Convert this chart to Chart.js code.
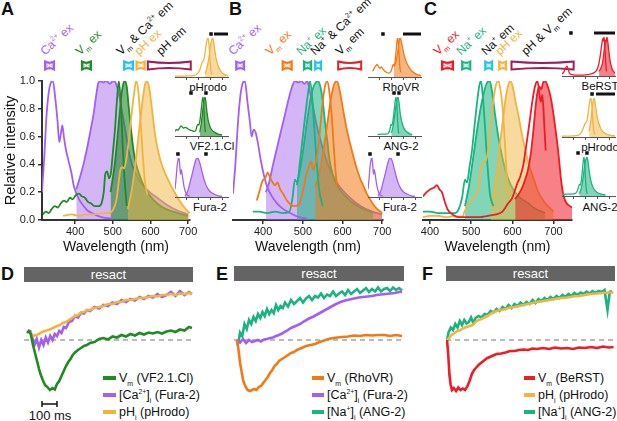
<!DOCTYPE html>
<html lang="en">
<head>
<meta charset="UTF-8">
<title>Spectra and resact responses</title>
<script src="https://cdn.jsdelivr.net/npm/chart.js"></script>
<style>
  body { margin: 0; background: #fff; }
  #fig { position: relative; width: 617px; height: 421px; overflow: hidden; background: #fff;
         font-family: "Liberation Sans", Arial, sans-serif; color: #111; }
  #fig canvas, #fig .t { position: absolute; }
  .t { white-space: nowrap; }
  .panel { font-weight: bold; font-size: 18px; line-height: 18px; }
  .flt { font-size: 12px; line-height: 14px; height: 14px; transform-origin: 0 100%; transform: rotate(-43deg); }
  .ins { font-size: 11.5px; line-height: 14px; transform: translateX(-50%); }
  sub, sup { font-size: 60%; line-height: 0; }
  .bar { background: #646464; color: #fff; font-size: 13px; line-height: 15px; height: 15px; text-align: center; }
  .leg { font-size: 12.5px; line-height: 16px; }
  .leg sub, .leg sup { font-size: 55%; }
  .leg i { display: inline-block; width: 13px; height: 4px; vertical-align: middle; margin-right: 3px; position: relative; top: -1px; }
</style>
</head>
<body>
<div id="fig">
  <!-- panel letters -->
  <div class="t panel" style="left:1px;top:0px">A</div>
  <div class="t panel" style="left:229px;top:0px">B</div>
  <div class="t panel" style="left:424px;top:0px">C</div>
  <div class="t panel" style="left:1px;top:265px">D</div>
  <div class="t panel" style="left:216px;top:265px">E</div>
  <div class="t panel" style="left:422px;top:265px">F</div>

  <!-- filter labels A -->
  <div class="t flt" style="left:47px;top:44px;color:#a35ff2">Ca<sup>2+</sup> ex</div>
  <div class="t flt" style="left:82px;top:44px;color:#1f8b25">V<sub>m</sub> ex</div>
  <div class="t flt" style="left:123px;top:44px">V<sub>m</sub> &amp; Ca<sup>2+</sup> em</div>
  <div class="t flt" style="left:141px;top:44px;color:#f1b43f">pH ex</div>
  <div class="t flt" style="left:163px;top:44px">pH em</div>
  <!-- filter labels B -->
  <div class="t flt" style="left:235px;top:44px;color:#a35ff2">Ca<sup>2+</sup> ex</div>
  <div class="t flt" style="left:272px;top:44px;color:#f27a16">V<sub>m</sub> ex</div>
  <div class="t flt" style="left:303px;top:44px;color:#19b47f">Na<sup>+</sup> ex</div>
  <div class="t flt" style="left:317px;top:44px">Na<sup>+</sup> &amp; Ca<sup>2+</sup> em</div>
  <div class="t flt" style="left:342px;top:44px">V<sub>m</sub> em</div>
  <!-- filter labels C -->
  <div class="t flt" style="left:440px;top:44px;color:#ee1c24">V<sub>m</sub> ex</div>
  <div class="t flt" style="left:463px;top:44px;color:#19b47f">Na<sup>+</sup> ex</div>
  <div class="t flt" style="left:488px;top:44px">Na<sup>+</sup> em</div>
  <div class="t flt" style="left:502px;top:44px;color:#f1b43f">pH ex</div>
  <div class="t flt" style="left:528px;top:44px">pH &amp; V<sub>m</sub> em</div>

  <!-- inset names -->
  <div class="t ins" style="left:208px;top:80px">pHrodo</div>
  <div class="t ins" style="left:212px;top:139px">VF2.1.Cl</div>
  <div class="t ins" style="left:210px;top:200px">Fura-2</div>
  <div class="t ins" style="left:401px;top:80px">RhoVR</div>
  <div class="t ins" style="left:401px;top:139px">ANG-2</div>
  <div class="t ins" style="left:400px;top:200px">Fura-2</div>
  <div class="t ins" style="left:600px;top:79px">BeRST</div>
  <div class="t ins" style="left:600px;top:140px">pHrodo</div>
  <div class="t ins" style="left:600px;top:200px">ANG-2</div>

  <!-- stimulus bars -->
  <div class="t bar" style="left:24px;top:267px;width:169px">resact</div>
  <div class="t bar" style="left:234px;top:266px;width:170px">resact</div>
  <div class="t bar" style="left:446px;top:266px;width:169px">resact</div>

  <!-- legends -->
  <div class="t leg" style="left:103px;top:370px"><i style="background:#1f8b25"></i>V<sub>m</sub> (VF2.1.Cl)</div>
  <div class="t leg" style="left:103px;top:387px"><i style="background:#a35ff2"></i>[Ca<sup>2+</sup>]<sub>i</sub> (Fura-2)</div>
  <div class="t leg" style="left:103px;top:404px"><i style="background:#f1b43f"></i>pH<sub>i</sub> (pHrodo)</div>

  <div class="t leg" style="left:312px;top:370px"><i style="background:#f27a16;width:12px"></i>V<sub>m</sub> (RhoVR)</div>
  <div class="t leg" style="left:312px;top:387px"><i style="background:#a35ff2;width:12px"></i>[Ca<sup>2+</sup>]<sub>i</sub> (Fura-2)</div>
  <div class="t leg" style="left:312px;top:404px"><i style="background:#19b47f;width:12px"></i>[Na<sup>+</sup>]<sub>i</sub> (ANG-2)</div>

  <div class="t leg" style="left:524px;top:370px"><i style="background:#ee1c24;width:11px"></i>V<sub>m</sub> (BeRST)</div>
  <div class="t leg" style="left:524px;top:387px"><i style="background:#f1b43f;width:11px"></i>pH<sub>i</sub> (pHrodo)</div>
  <div class="t leg" style="left:524px;top:404px"><i style="background:#19b47f;width:11px"></i>[Na<sup>+</sup>]<sub>i</sub> (ANG-2)</div>

  <div class="t" style="left:50px;top:408px;transform:translateX(-50%);font-size:13px;line-height:16px">100 ms</div>
</div>

<script>
// ---------- data: wavelength (nm), relative intensity ----------
const wlTicks = [400, 500, 600, 700];

// panel A
const fura2ExA = [[312,0.2],[318,0.45],[324,0.75],[330,0.92],[336,0.99],[341,1.0],[347,0.88],[353,0.72],[358,0.56],[362,0.62],[366,0.68],[370,0.6],[376,0.5],[383,0.42],[390,0.34],[396,0.25],[402,0.2],[410,0.15],[420,0.11],[432,0.07],[445,0.05],[460,0.03],[480,0.015],[500,0.01]];
const fura2EmA = [[403,0.22],[412,0.3],[422,0.4],[432,0.52],[442,0.66],[450,0.78],[456,0.9],[461,0.98],[466,1.0],[475,0.99],[484,1.0],[492,0.98],[500,1.0],[507,0.99],[513,0.94],[520,0.85],[527,0.74],[534,0.63],[542,0.5],[552,0.39],[565,0.31],[580,0.25],[598,0.2],[618,0.16],[643,0.11],[670,0.07],[700,0.04]];
const vfExA = [[314,0.04],[322,0.06],[330,0.05],[338,0.08],[346,0.1],[354,0.09],[362,0.12],[370,0.14],[378,0.13],[386,0.16],[394,0.15],[402,0.18],[410,0.19],[418,0.17],[426,0.16],[434,0.13],[442,0.12],[452,0.1],[462,0.1],[470,0.12],[476,0.2],[480,0.33],[485,0.35],[490,0.3],[495,0.34],[500,0.48],[506,0.66],[511,0.86],[516,1.0],[521,0.85],[526,0.55],[531,0.3],[537,0.1]];
const vfEmA = [[494,0.2],[500,0.3],[506,0.42],[512,0.58],[518,0.76],[523,0.9],[528,0.98],[532,1.0],[537,0.96],[542,0.82],[548,0.66],[555,0.5],[562,0.4],[570,0.33],[580,0.26],[592,0.2],[606,0.15],[622,0.11],[640,0.08],[660,0.06],[685,0.04],[700,0.03]];
const phExA = [[368,0.03],[390,0.04],[410,0.03],[430,0.04],[450,0.04],[470,0.05],[490,0.05],[502,0.08],[510,0.15],[516,0.28],[520,0.36],[525,0.38],[530,0.37],[536,0.44],[542,0.56],[549,0.74],[556,0.9],[562,1.0],[568,0.92],[574,0.7],[580,0.45],[586,0.26],[592,0.18]];
const phEmA = [[540,0.08],[548,0.18],[556,0.32],[564,0.5],[572,0.7],[580,0.88],[586,0.98],[591,1.0],[596,0.96],[604,0.8],[612,0.62],[620,0.5],[630,0.4],[640,0.33],[652,0.26],[664,0.2],[677,0.14],[690,0.09],[704,0.05]];
const filtersA = [[320,344],[418,442],[530,554],[563,585],[593,707]];

// panel B
const fura2ExB = [[324,0.19],[330,0.4],[336,0.68],[342,0.88],[348,0.98],[354,1.0],[360,0.86],[366,0.72],[371,0.6],[376,0.65],[381,0.63],[387,0.55],[394,0.43],[402,0.32],[410,0.24],[422,0.17],[435,0.12],[450,0.08],[468,0.05],[490,0.02],[510,0.01]];
const fura2EmB = [[407,0.2],[415,0.27],[425,0.4],[435,0.52],[445,0.64],[455,0.76],[465,0.88],[473,0.96],[480,1.0],[488,0.99],[496,1.0],[504,0.98],[511,1.0],[518,0.92],[526,0.81],[535,0.68],[545,0.57],[557,0.45],[572,0.34],[590,0.25],[615,0.17],[645,0.1],[675,0.06],[700,0.04]];
const angExB = [[374,0.06],[390,0.06],[410,0.05],[430,0.06],[450,0.05],[466,0.06],[474,0.16],[480,0.29],[486,0.27],[492,0.4],[500,0.6],[508,0.8],[514,0.93],[518,1.0],[523,0.9],[528,0.7],[534,0.45],[541,0.22],[550,0.1]];
const angEmB = [[485,0.25],[494,0.38],[503,0.55],[512,0.74],[520,0.88],[527,0.96],[533,0.99],[538,1.0],[544,0.96],[550,0.86],[556,0.7],[562,0.56],[568,0.42],[576,0.32],[586,0.25],[598,0.2],[611,0.16],[627,0.12],[644,0.09],[660,0.07],[677,0.05]];
const rhoExB = [[384,0.14],[392,0.22],[398,0.28],[405,0.3],[411,0.34],[417,0.31],[424,0.27],[430,0.25],[436,0.27],[443,0.22],[450,0.19],[460,0.14],[470,0.11],[480,0.1],[490,0.11],[500,0.2],[508,0.32],[515,0.38],[521,0.42],[526,0.36],[531,0.4],[537,0.48],[543,0.64],[549,0.82],[555,0.95],[561,1.0],[567,0.92],[573,0.74],[579,0.48],[584,0.3],[587,0.24]];
const rhoEmB = [[531,0.24],[538,0.3],[546,0.4],[554,0.54],[562,0.7],[570,0.86],[578,0.97],[586,1.0],[593,0.93],[601,0.8],[610,0.66],[619,0.55],[628,0.45],[636,0.37],[644,0.3],[652,0.25],[661,0.19],[669,0.15],[678,0.11],[687,0.08],[700,0.05]];
const filtersB = [[332,352],[449,472],[503,521],[531,546],[589,647]];

// panel C
const angExC = [[383,0.06],[400,0.06],[420,0.05],[440,0.05],[461,0.05],[470,0.08],[478,0.16],[485,0.29],[490,0.27],[496,0.38],[502,0.5],[509,0.7],[515,0.86],[520,0.97],[524,1.0],[528,0.9],[533,0.7],[539,0.42],[546,0.18],[554,0.1]];
const angEmC = [[485,0.1],[495,0.25],[505,0.45],[515,0.66],[524,0.82],[532,0.93],[539,0.99],[545,1.0],[551,0.92],[558,0.76],[566,0.6],[575,0.46],[583,0.36],[595,0.26],[607,0.2],[623,0.15],[639,0.12],[651,0.09],[663,0.07],[680,0.05]];
const phExC = [[383,0.02],[400,0.03],[420,0.03],[440,0.02],[460,0.03],[478,0.02],[485,0.07],[495,0.12],[507,0.16],[517,0.22],[523,0.36],[528,0.41],[534,0.42],[540,0.48],[547,0.66],[554,0.86],[560,0.97],[566,1.0],[571,0.94],[576,0.82],[580,0.65],[584,0.45],[588,0.26],[592,0.17],[595,0.15]];
const phEmC = [[548,0.1],[556,0.22],[563,0.36],[570,0.55],[577,0.72],[583,0.86],[589,0.96],[595,1.0],[601,0.96],[608,0.85],[615,0.75],[623,0.62],[632,0.5],[640,0.4],[649,0.32],[656,0.26],[663,0.2],[671,0.16],[680,0.12],[690,0.09],[700,0.06]];
const berExC = [[383,0.17],[392,0.2],[400,0.22],[408,0.23],[417,0.25],[423,0.22],[429,0.2],[436,0.13],[444,0.07],[455,0.04],[468,0.02],[485,0.02],[502,0.02],[520,0.02],[541,0.03],[560,0.04],[576,0.06],[590,0.12],[600,0.16],[607,0.22],[613,0.27],[619,0.31],[627,0.4],[632,0.5],[637,0.6],[643,0.73],[649,0.86],[655,0.96],[661,1.0],[666,0.9],[669,0.85],[673,0.9],[677,0.72],[681,0.5]];
const berEmC = [[607,0.15],[614,0.18],[622,0.22],[630,0.28],[638,0.36],[645,0.48],[651,0.64],[656,0.8],[661,0.92],[666,0.96],[670,0.94],[675,0.99],[680,1.0],[686,0.96],[692,0.9],[698,0.8],[705,0.65],[712,0.48],[718,0.3],[724,0.18],[732,0.12],[740,0.1],[745,0.09]];
const filtersC = [[429,456],[478,498],[534,551],[568,585],[598,749]];

// inset spectra
const phInsExA = [[300,0.02],[350,0.02],[400,0.03],[440,0.03],[470,0.05],[495,0.1],[515,0.22],[530,0.38],[542,0.42],[552,0.55],[562,0.78],[572,0.95],[580,1.0],[588,0.85],[596,0.5],[604,0.2],[612,0.06]];
const phInsEmA = [[556,0.08],[572,0.25],[588,0.5],[600,0.78],[610,0.94],[620,1.0],[628,0.9],[638,0.68],[650,0.46],[665,0.3],[682,0.18],[700,0.11],[725,0.06],[750,0.04]];
const vfInsEx = [[300,0.12],[312,0.16],[325,0.15],[338,0.2],[350,0.26],[360,0.24],[372,0.2],[385,0.22],[398,0.21],[412,0.18],[428,0.15],[444,0.14],[460,0.12],[476,0.14],[486,0.25],[494,0.3],[502,0.28],[512,0.4],[522,0.65],[530,0.88],[538,1.0],[545,0.75],[551,0.35],[558,0.1]];
const vfInsEm = [[510,0.1],[522,0.3],[534,0.6],[545,0.88],[555,1.0],[563,0.86],[572,0.6],[582,0.4],[595,0.26],[612,0.16],[635,0.1],[665,0.05],[700,0.03]];
const furaInsEx = [[300,0.2],[310,0.5],[318,0.8],[326,0.96],[334,1.0],[341,0.78],[347,0.58],[353,0.7],[359,0.62],[367,0.45],[377,0.26],[390,0.12],[405,0.05],[425,0.02]];
const furaInsEm = [[385,0.03],[400,0.1],[415,0.22],[430,0.4],[445,0.58],[460,0.77],[474,0.93],[486,1.0],[498,0.98],[510,0.88],[525,0.7],[542,0.5],[560,0.33],[580,0.21],[605,0.12],[635,0.07],[670,0.03],[700,0.02]];
const rhoInsEx = [[340,0.15],[352,0.22],[365,0.28],[378,0.32],[390,0.26],[402,0.22],[415,0.26],[428,0.2],[442,0.15],[458,0.12],[475,0.1],[490,0.12],[503,0.22],[514,0.32],[522,0.28],[532,0.45],[541,0.75],[548,0.95],[553,1.0],[559,0.8],[566,0.45],[572,0.22],[578,0.12]];
const rhoInsEm = [[520,0.28],[532,0.34],[543,0.48],[553,0.66],[562,0.86],[571,1.0],[580,0.95],[590,0.8],[602,0.62],[616,0.46],[632,0.34],[650,0.24],[670,0.16],[695,0.1],[720,0.06],[750,0.04]];
const angInsExB = [[380,0.04],[420,0.05],[455,0.05],[475,0.08],[487,0.18],[495,0.3],[503,0.27],[512,0.4],[522,0.65],[531,0.9],[538,1.0],[545,0.78],[551,0.4],[557,0.15],[562,0.06]];
const angInsEmB = [[498,0.08],[510,0.2],[522,0.42],[534,0.7],[545,0.92],[554,1.0],[562,0.88],[572,0.62],[584,0.4],[598,0.25],[615,0.15],[640,0.08],[675,0.04]];
const berInsEx = [[300,0.05],[315,0.1],[330,0.2],[342,0.25],[352,0.18],[364,0.07],[380,0.04],[410,0.02],[450,0.02],[500,0.03],[540,0.05],[570,0.08],[595,0.15],[612,0.3],[626,0.55],[638,0.82],[646,0.96],[650,0.9],[657,1.0],[664,0.75],[671,0.35],[678,0.12]];
const berInsEm = [[615,0.12],[630,0.2],[645,0.35],[655,0.58],[664,0.8],[671,0.92],[676,0.88],[682,1.0],[690,0.85],[698,0.62],[708,0.4],[718,0.25],[730,0.15],[742,0.1],[750,0.08]];
const phInsExC = [[300,0.02],[350,0.02],[400,0.03],[430,0.04],[455,0.08],[475,0.18],[490,0.3],[500,0.36],[510,0.4],[520,0.56],[530,0.8],[539,0.97],[546,1.0],[554,0.78],[562,0.42],[570,0.16],[578,0.06]];
const phInsEmC = [[530,0.15],[542,0.35],[553,0.65],[563,0.9],[572,1.0],[580,0.9],[590,0.68],[602,0.48],[616,0.32],[632,0.2],[652,0.12],[680,0.07],[715,0.04],[750,0.03]];
const angInsExC = [[300,0.04],[340,0.05],[380,0.05],[410,0.06],[428,0.12],[440,0.22],[448,0.3],[455,0.28],[465,0.42],[475,0.72],[482,0.93],[487,1.0],[494,0.78],[500,0.42],[507,0.15],[514,0.06]];
const angInsEmC = [[448,0.06],[462,0.18],[476,0.4],[490,0.72],[503,0.94],[512,1.0],[520,0.9],[530,0.66],[543,0.42],[558,0.26],[575,0.16],[598,0.09],[630,0.05],[670,0.03]];

// inset filter marks (wavelengths): squares and bars
const marksPhA  = { squares: [606], bars: [[631, 750]] };
const marksVfA  = { squares: [436, 563], bars: [] };
const marksFuA  = { squares: [325, 563], bars: [] };
const marksRhoB = { squares: [427], bars: [[597, 750]] };
const marksAngB = { squares: [521, 563], bars: [] };
const marksFuB  = { squares: [317, 555], bars: [] };
const marksBerC = { squares: [376], bars: [[572, 750]] };
const marksPhC  = { squares: [555], bars: [[589, 750]] };
const marksAngC = { squares: [436, 512], bars: [] };

// ---------- data: time (ms after resact), normalised dF ----------
const vmD = [[-20,0.14],[-8,0.18],[5,0.12],[20,-0.1],[35,-0.28],[47,-0.42],[60,-0.58],[70,-0.68],[85,-0.8],[100,-0.9],[115,-0.94],[133,-1.0],[150,-0.96],[165,-0.99],[180,-0.88],[195,-0.82],[210,-0.72],[225,-0.62],[240,-0.52],[255,-0.44],[270,-0.38],[285,-0.3],[300,-0.25],[320,-0.2],[340,-0.16],[360,-0.12],[380,-0.1],[400,-0.06],[430,-0.04],[460,0.02],[490,0.04],[520,0.01],[550,0.07],[580,0.05],[610,0.1],[640,0.07],[670,0.12],[700,0.09],[730,0.14],[760,0.11],[790,0.15],[820,0.13],[850,0.16],[880,0.13],[910,0.17],[940,0.19],[970,0.16],[1000,0.21],[1030,0.19],[1060,0.26],[1080,0.24]];
const caD = [[0,0.2],[15,0.05],[30,-0.1],[45,0.02],[60,-0.15],[75,0.0],[90,-0.1],[105,0.05],[120,-0.05],[135,0.08],[150,0.0],[165,0.12],[180,0.08],[195,0.18],[210,0.14],[225,0.26],[240,0.24],[260,0.36],[280,0.38],[300,0.48],[320,0.45],[340,0.54],[360,0.53],[380,0.6],[400,0.58],[430,0.66],[460,0.63],[490,0.7],[520,0.68],[550,0.75],[580,0.72],[610,0.8],[640,0.76],[670,0.82],[700,0.79],[730,0.86],[760,0.82],[790,0.88],[820,0.85],[850,0.92],[880,0.86],[910,0.9],[940,0.96],[970,0.88],[1000,0.98],[1030,0.9],[1060,0.96],[1080,0.92]];
const phD = [[0,0.15],[20,0.08],[40,0.1],[60,0.12],[80,0.16],[100,0.18],[120,0.2],[140,0.22],[160,0.25],[180,0.28],[200,0.3],[220,0.34],[240,0.36],[260,0.4],[280,0.44],[300,0.48],[320,0.5],[340,0.55],[360,0.56],[380,0.6],[400,0.6],[430,0.64],[460,0.66],[490,0.68],[520,0.72],[550,0.72],[580,0.76],[610,0.76],[640,0.8],[670,0.8],[700,0.82],[730,0.84],[760,0.84],[790,0.86],[820,0.88],[850,0.87],[880,0.9],[910,0.9],[940,0.92],[970,0.9],[1000,0.93],[1030,0.92],[1060,0.94],[1080,0.92]];

const vmE = [[0,0.0],[10,-0.2],[20,-0.45],[30,-0.62],[40,-0.8],[55,-0.92],[70,-1.0],[85,-1.02],[100,-1.0],[115,-0.98],[130,-1.0],[145,-0.94],[160,-0.92],[175,-0.86],[190,-0.8],[205,-0.74],[220,-0.66],[235,-0.6],[250,-0.52],[265,-0.48],[280,-0.42],[300,-0.38],[320,-0.34],[340,-0.3],[360,-0.26],[380,-0.24],[400,-0.2],[430,-0.16],[460,-0.12],[490,-0.1],[520,-0.08],[550,-0.04],[580,-0.01],[610,0.02],[640,0.04],[670,0.05],[700,0.06],[740,0.07],[780,0.09],[820,0.08],[860,0.1],[900,0.09],[940,0.1],[980,0.1],[1020,0.08],[1060,0.1],[1100,0.08]];
const caE = [[0,0.0],[20,-0.05],[40,0.02],[60,-0.06],[80,0.0],[100,-0.04],[120,-0.02],[140,0.0],[160,-0.03],[180,0.01],[200,0.02],[220,0.04],[240,0.05],[260,0.08],[280,0.1],[300,0.13],[330,0.18],[360,0.24],[390,0.28],[420,0.32],[450,0.38],[480,0.43],[510,0.47],[540,0.52],[570,0.57],[600,0.62],[630,0.67],[660,0.72],[690,0.76],[720,0.79],[750,0.81],[780,0.83],[810,0.85],[840,0.86],[870,0.87],[900,0.88],[930,0.9],[960,0.91],[990,0.92],[1020,0.93],[1050,0.94],[1080,0.96],[1100,0.97]];
const naE = [[0,-0.1],[10,-0.05],[20,0.15],[35,0.08],[50,0.32],[65,0.22],[80,0.4],[95,0.32],[110,0.46],[125,0.38],[140,0.52],[155,0.44],[170,0.56],[185,0.48],[200,0.62],[215,0.52],[230,0.6],[245,0.54],[260,0.7],[275,0.6],[290,0.68],[305,0.64],[320,0.75],[340,0.67],[360,0.8],[380,0.72],[400,0.78],[420,0.84],[440,0.75],[460,0.83],[480,0.88],[500,0.8],[520,0.88],[540,0.85],[560,0.93],[580,0.84],[600,0.91],[620,0.88],[640,0.97],[660,0.88],[680,0.93],[700,0.97],[720,0.9],[740,1.0],[760,0.92],[780,0.97],[800,1.02],[820,0.94],[840,0.99],[860,1.04],[880,0.96],[900,1.02],[920,0.97],[940,1.05],[960,0.97],[980,1.02],[1000,1.04],[1020,0.98],[1040,1.05],[1060,1.0],[1080,1.04],[1100,0.99]];

const vmF = [[0,0.0],[8,-0.3],[16,-0.7],[24,-0.9],[33,-1.0],[45,-0.96],[60,-1.02],[75,-0.95],[90,-1.0],[105,-0.97],[120,-1.0],[135,-0.93],[150,-0.82],[165,-0.68],[180,-0.6],[195,-0.55],[210,-0.5],[230,-0.45],[250,-0.4],[270,-0.36],[300,-0.32],[330,-0.28],[360,-0.27],[390,-0.25],[420,-0.22],[450,-0.22],[480,-0.2],[510,-0.19],[540,-0.2],[570,-0.17],[600,-0.18],[640,-0.16],[680,-0.18],[720,-0.15],[760,-0.17],[800,-0.16],[840,-0.18],[880,-0.15],[920,-0.16],[960,-0.14],[1000,-0.16],[1040,-0.13],[1080,-0.15],[1110,-0.14]];
const phF = [[0,0.0],[15,0.05],[30,0.1],[50,0.14],[70,0.18],[90,0.2],[110,0.24],[130,0.26],[150,0.28],[170,0.3],[190,0.36],[210,0.4],[230,0.42],[250,0.45],[270,0.48],[300,0.54],[330,0.58],[360,0.6],[390,0.62],[420,0.65],[450,0.66],[480,0.68],[510,0.7],[540,0.72],[570,0.74],[600,0.76],[640,0.78],[680,0.8],[720,0.82],[760,0.84],[800,0.85],[840,0.87],[880,0.88],[920,0.9],[960,0.92],[1000,0.93],[1040,0.94],[1080,0.95],[1110,0.95]];
const naF = [[0,0.0],[10,0.15],[25,0.25],[40,0.2],[55,0.32],[70,0.25],[85,0.38],[100,0.3],[115,0.4],[130,0.33],[145,0.36],[160,0.45],[175,0.34],[190,0.44],[210,0.48],[230,0.45],[250,0.52],[270,0.5],[290,0.58],[310,0.55],[330,0.62],[350,0.58],[370,0.66],[390,0.62],[410,0.7],[430,0.64],[450,0.72],[470,0.68],[490,0.75],[510,0.7],[530,0.76],[550,0.72],[570,0.8],[590,0.74],[610,0.82],[630,0.78],[650,0.84],[670,0.8],[690,0.86],[710,0.82],[730,0.88],[750,0.84],[770,0.9],[790,0.86],[810,0.92],[830,0.88],[850,0.94],[870,0.9],[890,0.95],[910,0.92],[930,0.97],[950,0.93],[970,0.98],[990,0.94],[1010,0.98],[1030,0.96],[1050,1.0],[1070,0.6],[1085,0.96],[1100,0.98]];

// ---------- colours ----------
const PURPLE = '#a35ff2', PURPLE_BG = 'rgba(170,110,240,0.5)';
const GREEN = '#1f8b25', GREEN_BG = 'rgba(35,140,45,0.62)';
const GOLD = '#f1b43f', GOLD_BG = 'rgba(242,182,62,0.5)';
const ORANGE = '#f27a16', ORANGE_BG = 'rgba(242,122,22,0.55)';
const TEAL = '#19b47f', TEAL_BG = 'rgba(25,180,127,0.55)';
const RED = '#ee1c24', RED_BG = 'rgba(238,28,36,0.55)';
const CYAN = '#25c3ec', MAGENTA = '#a11c5c', BOXRED = '#e62229';

Chart.defaults.font.family = '"Liberation Sans", Arial, sans-serif';
Chart.defaults.color = '#111';

const fig = document.getElementById('fig');
function canvasAt(x, y, w, h) {
  const c = document.createElement('canvas');
  c.width = w; c.height = h;
  c.style.left = x + 'px'; c.style.top = y + 'px';
  c.style.width = w + 'px'; c.style.height = h + 'px';
  fig.appendChild(c);
  return c;
}
const xy = a => a.map(p => ({ x: p[0], y: p[1] }));
function exLine(a, col, w) {
  return { data: xy(a), borderColor: col, borderWidth: w, pointRadius: 0, fill: false, cubicInterpolationMode: 'monotone' };
}
function emArea(a, col, bg, w) {
  return { data: xy(a), borderColor: col, borderWidth: w, pointRadius: 0, fill: 'origin', backgroundColor: bg, cubicInterpolationMode: 'monotone' };
}
function trace(a, col) {
  return { data: xy(a), borderColor: col, borderWidth: 2.6, pointRadius: 0, fill: false, tension: 0 };
}

// filter symbols above the spectra
const filterIconPlugin = {
  id: 'filterIcons',
  afterDraw(chart, args, opts) {
    const ctx = chart.ctx, sx = chart.scales.x;
    opts.bands.forEach((b, i) => {
      const x0 = sx.getPixelForValue(b[0]), x1 = sx.getPixelForValue(b[1]);
      const col = opts.colors[i], wide = x1 - x0 > 14;
      const top = 61.5, bot = 69.5, mid = (x0 + x1) / 2, bow = wide ? 3 : 2.5;
      ctx.save();
      ctx.beginPath();
      ctx.moveTo(x0, top);
      ctx.quadraticCurveTo(mid, top + bow, x1, top);
      ctx.lineTo(x1, bot);
      ctx.quadraticCurveTo(mid, bot - bow, x0, bot);
      ctx.closePath();
      ctx.fillStyle = wide ? '#fff' : col;
      ctx.globalAlpha = wide ? 1 : 0.5;
      ctx.fill();
      ctx.globalAlpha = 1;
      ctx.strokeStyle = col; ctx.lineWidth = 2;
      ctx.stroke();
      if (!wide) {
        ctx.strokeStyle = '#fff'; ctx.lineWidth = 1;
        ctx.beginPath();
        ctx.moveTo(x0 + 2, top + 2.5); ctx.lineTo(x1 - 2, bot - 2.5);
        ctx.moveTo(x1 - 2, top + 2.5); ctx.lineTo(x0 + 2, bot - 2.5);
        ctx.stroke();
      }
      ctx.restore();
    });
  }
};

// black squares / bars above the insets
const insetMarkPlugin = {
  id: 'insetMarks',
  afterDraw(chart, args, opts) {
    const ctx = chart.ctx, sx = chart.scales.x, y = chart.chartArea.top - 4;
    ctx.save();
    ctx.fillStyle = '#111';
    opts.squares.forEach(v => {
      const x = sx.getPixelForValue(v);
      ctx.fillRect(x - 1.75, y - 1.75, 3.5, 3.5);
    });
    opts.bars.forEach(b => {
      const x0 = sx.getPixelForValue(b[0]), x1 = sx.getPixelForValue(b[1]);
      ctx.fillRect(x0, y - 1.5, x1 - x0, 3);
    });
    ctx.restore();
  }
};

// 100 ms scale bar under panel D
const scaleBarPlugin = {
  id: 'scaleBar',
  afterDraw(chart, args, opts) {
    if (!opts.length) return;
    const ctx = chart.ctx, sx = chart.scales.x, y = chart.chartArea.bottom + 9;
    const x0 = sx.getPixelForValue(opts.from), x1 = sx.getPixelForValue(opts.from + opts.length);
    ctx.save();
    ctx.strokeStyle = '#111'; ctx.lineWidth = 1.5;
    ctx.beginPath();
    ctx.moveTo(x0, y); ctx.lineTo(x1, y);
    ctx.moveTo(x0, y - 3); ctx.lineTo(x0, y + 3);
    ctx.moveTo(x1, y - 3); ctx.lineTo(x1, y + 3);
    ctx.stroke();
    ctx.restore();
  }
};

function spectrumChart(left, width, pad, range, showY, sets, bands, colors) {
  const c = canvasAt(left, 0, width, 256);
  const y = showY ? {
    min: 0, max: 1,
    afterFit: s => { s.width = 42; },
    ticks: { stepSize: 0.2, callback: v => v.toFixed(1), font: { size: 11 }, color: '#222', padding: 3 },
    grid: { drawOnChartArea: false, tickLength: 4, color: '#333', lineWidth: 1.5 },
    border: { color: '#333', width: 2 },
    title: { display: true, text: 'Relative intensity', font: { size: 14.5 }, color: '#111', padding: { top: 2, bottom: 0 } }
  } : { display: false, min: 0, max: 1 };
  return new Chart(c, {
    type: 'line',
    data: { datasets: sets },
    options: {
      responsive: false, animation: false, events: [],
      layout: { padding: { left: pad[0], right: pad[1], top: 81, bottom: 0 } },
      plugins: { legend: { display: false }, tooltip: { enabled: false }, filterIcons: { bands, colors } },
      scales: {
        x: {
          type: 'linear', min: range[0], max: range[1],
          afterBuildTicks: s => { s.ticks = wlTicks.map(v => ({ value: v })); },
          afterFit: s => { s.height = 36; },
          ticks: { font: { size: 11 }, color: '#222', padding: 1, maxRotation: 0, autoSkip: false },
          grid: { drawOnChartArea: false, tickLength: 4, color: '#333', lineWidth: 1.5 },
          border: { color: '#333', width: 2 },
          title: { display: true, text: 'Wavelength (nm)', font: { size: 14 }, color: '#111', padding: { top: 0, bottom: 0 } }
        },
        y
      }
    },
    plugins: [filterIconPlugin]
  });
}

function insetChart(left, base, ex, em, col, bg, marks) {
  const c = canvasAt(left - 4, base - 48, 61, 54);
  return new Chart(c, {
    type: 'line',
    data: { datasets: [exLine(ex, col, 1.3), emArea(em, col, bg, 1.3)] },
    options: {
      responsive: false, animation: false, events: [],
      layout: { padding: { left: 4, right: 4, top: 9, bottom: 2 } },
      plugins: { legend: { display: false }, tooltip: { enabled: false }, insetMarks: marks },
      scales: {
        x: {
          type: 'linear', min: 300, max: 750,
          afterBuildTicks: s => { s.ticks = wlTicks.map(v => ({ value: v })); },
          afterFit: s => { s.height = 4; },
          ticks: { display: false },
          grid: { drawOnChartArea: false, tickLength: 3, color: '#555', lineWidth: 1 },
          border: { color: '#555', width: 1 }
        },
        y: { display: false, min: 0, max: 1 }
      }
    },
    plugins: [insetMarkPlugin]
  });
}

function traceChart(left, width, range, sets, bar) {
  const extra = bar ? 26 : 0;
  const c = canvasAt(left, 285, width, 110 + extra);
  const base = { data: [{ x: range[0], y: 0 }, { x: range[1], y: 0 }], borderColor: '#777', borderWidth: 1.2,
                 borderDash: [5, 4], pointRadius: 0, fill: false };
  return new Chart(c, {
    type: 'line',
    data: { datasets: [...sets, base] },
    options: {
      responsive: false, animation: false, events: [],
      layout: { padding: { left: 0, right: 0, top: 0, bottom: extra } },
      plugins: { legend: { display: false }, tooltip: { enabled: false }, scaleBar: bar || {} },
      scales: {
        x: { type: 'linear', display: false, min: range[0], max: range[1] },
        y: { display: false, min: -1.1, max: 1.1 }
      }
    },
    plugins: [scaleBarPlugin]
  });
}

// ---------- main spectra ----------
spectrumChart(0, 240, [0, 50], [312, 705], true, [
  exLine(phExA, GOLD, 1.8), exLine(vfExA, GREEN, 1.8), exLine(fura2ExA, PURPLE, 1.8),
  emArea(phEmA, GOLD, GOLD_BG, 1.8), emArea(vfEmA, GREEN, GREEN_BG, 1.8), emArea(fura2EmA, PURPLE, PURPLE_BG, 1.8)
], filtersA, [PURPLE, GREEN, CYAN, GOLD, MAGENTA]);

spectrumChart(215, 230, [18, 62], [324, 702], false, [
  exLine(rhoExB, ORANGE, 1.8), exLine(angExB, TEAL, 1.8), exLine(fura2ExB, PURPLE, 1.8),
  emArea(rhoEmB, ORANGE, ORANGE_BG, 1.8), emArea(angEmB, TEAL, TEAL_BG, 1.8), emArea(fura2EmB, PURPLE, PURPLE_BG, 1.8)
], filtersB, [PURPLE, ORANGE, TEAL, CYAN, BOXRED]);

spectrumChart(400, 217, [23, 45], [383, 745], false, [
  exLine(berExC, RED, 1.8), exLine(phExC, GOLD, 1.8), exLine(angExC, TEAL, 1.8),
  emArea(berEmC, RED, RED_BG, 1.8), emArea(phEmC, GOLD, GOLD_BG, 1.8), emArea(angEmC, TEAL, TEAL_BG, 1.8)
], filtersC, [RED, TEAL, CYAN, GOLD, MAGENTA]);

// ---------- insets ----------
insetChart(175, 77, phInsExA, phInsEmA, GOLD, GOLD_BG, marksPhA);
insetChart(175, 136, vfInsEx, vfInsEm, GREEN, GREEN_BG, marksVfA);
insetChart(175, 197, furaInsEx, furaInsEm, PURPLE, PURPLE_BG, marksFuA);
insetChart(368, 77, rhoInsEx, rhoInsEm, ORANGE, ORANGE_BG, marksRhoB);
insetChart(368, 136, angInsExB, angInsEmB, TEAL, TEAL_BG, marksAngB);
insetChart(368, 197, furaInsEx, furaInsEm, PURPLE, PURPLE_BG, marksFuB);
insetChart(562, 76, berInsEx, berInsEm, RED, RED_BG, marksBerC);
insetChart(562, 137, phInsExC, phInsEmC, GOLD, GOLD_BG, marksPhC);
insetChart(562, 196, angInsExC, angInsEmC, TEAL, TEAL_BG, marksAngC);

// ---------- responses to resact ----------
traceChart(24, 169, [-40, 1087], [trace(vmD, GREEN), trace(phD, GOLD), trace(caD, PURPLE)], { from: 80, length: 100 });
traceChart(234, 170, [-20, 1113], [trace(vmE, ORANGE), trace(caE, PURPLE), trace(naE, TEAL)]);
traceChart(446, 169, [-7, 1120], [trace(vmF, RED), trace(phF, GOLD), trace(naF, TEAL)]);
</script>
</body>
</html>
